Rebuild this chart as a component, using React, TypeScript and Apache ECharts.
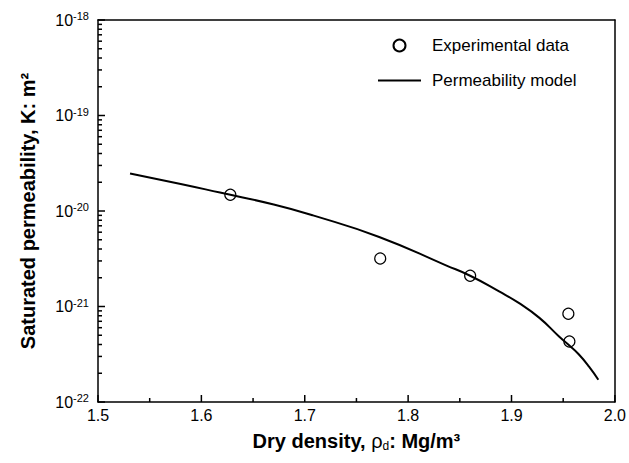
import React, { useEffect, useRef } from "react";
import * as echarts from "echarts";

// Experimental data (dry density Mg/m3, permeability m2)
const expDensity = [1.628, 1.773, 1.86, 1.955, 1.956];
const expPerm = [1.48e-20, 3.18e-21, 2.1e-21, 8.4e-22, 4.3e-22];

// Permeability model curve
const modelDensity = [1.531, 1.58, 1.618, 1.67, 1.708, 1.772, 1.8366, 1.86, 1.888, 1.907, 1.927, 1.946, 1.956, 1.965, 1.975, 1.984];
const modelPerm = [2.47e-20, 1.92e-20, 1.56e-20, 1.17e-20, 9.0e-21, 5.35e-21, 2.7e-21, 2.1e-21, 1.44e-21, 1.09e-21, 7.6e-22, 4.85e-22, 3.9e-22, 3.16e-22, 2.35e-22, 1.71e-22];

// Axis settings and tick positions
const xMin = 1.5;
const xMax = 2.0;
const xMajorTicks = [1.5, 1.6, 1.7, 1.8, 1.9, 2.0];
const xMinorTicks = [1.55, 1.65, 1.75, 1.85, 1.95];
const yMinExp = -22;
const yMaxExp = -18;
const minorMultipliers = [2, 3, 4, 5, 6, 7, 8, 9];

// ECharts' log scale rounds tiny numbers to 20 decimals, so values are
// passed in units of 1e-20 m2 and the labels add the exponent back.
const UNIT_EXP = -20;
const toUnit = (v: number) => v / Math.pow(10, UNIT_EXP);

const FONT = "'Liberation Sans', Arial, sans-serif";

export default function App() {
  const ref = useRef<HTMLDivElement>(null);
  useEffect(() => {
    if (!ref.current) return;
    const chart = echarts.init(ref.current, null, { renderer: "svg" });
    const yMin = Math.pow(10, yMinExp - UNIT_EXP);
    const yMax = Math.pow(10, yMaxExp - UNIT_EXP);
    chart.setOption({
      animation: false,
      textStyle: { fontFamily: FONT },
      grid: { left: 98, right: 13, top: 20, bottom: 61 },
      legend: {
        orient: "vertical",
        left: 373,
        top: 32,
        itemWidth: 43,
        itemHeight: 12,
        itemGap: 18,
        data: [
          { name: "Experimental data" },
          {
            name: "Permeability model",
            icon: "path://M0,0 L0.01,0 L0,0.01 Z M0,5 L43,5 L43,7 L0,7 Z M0,12 L0.01,12 L0,11.99 Z",
          },
        ],
        textStyle: { fontFamily: FONT, fontSize: 17, color: "#000", padding: [0, 0, 0, 6] },
      },
      xAxis: [
        {
          type: "value",
          min: xMin,
          max: xMax,
          interval: 0.1,
          name: "{b|Dry density, }{r|ρ}{sub|d}{b|: Mg/m³}",
          nameLocation: "middle",
          nameGap: 27,
          nameTextStyle: {
            rich: {
              b: { fontFamily: FONT, fontSize: 20, fontWeight: "bold", color: "#000" },
              r: { fontFamily: FONT, fontSize: 20, color: "#000" },
              sub: { fontFamily: FONT, fontSize: 12, color: "#000", padding: [11, 0, 0, 0] },
            },
          },
          axisLine: { show: true, lineStyle: { color: "#000", width: 1.5 } },
          axisTick: { show: false },
          splitLine: { show: false },
          axisLabel: {
            show: true,
            margin: 5,
            fontFamily: FONT,
            fontSize: 16,
            color: "#000",
            formatter: (v: number) => v.toFixed(1),
          },
        },
        {
          type: "value",
          position: "top",
          min: xMin,
          max: xMax,
          axisLine: { show: true, onZero: false, lineStyle: { color: "#000", width: 1.5 } },
          axisTick: { show: false },
          axisLabel: { show: false },
          splitLine: { show: false },
        },
      ],
      yAxis: [
        {
          type: "log",
          min: yMin,
          max: yMax,
          interval: 1,
          name: "Saturated permeability, K: m²",
          nameLocation: "middle",
          nameGap: 60,
          nameTextStyle: { fontFamily: FONT, fontSize: 20, fontWeight: "bold", color: "#000" },
          axisLine: { show: true, lineStyle: { color: "#000", width: 1.5 } },
          axisTick: { show: false },
          splitLine: { show: false },
          axisLabel: {
            show: true,
            margin: 9,
            color: "#000",
            formatter: (v: number) => {
              const e = Math.round(Math.log10(v)) + UNIT_EXP;
              return `{b|10}{s|${e}}`;
            },
            rich: {
              b: { fontFamily: FONT, fontSize: 16, color: "#000" },
              s: { fontFamily: FONT, fontSize: 11, color: "#000", padding: [0, 0, 8, 0] },
            },
          },
        },
        {
          type: "log",
          position: "right",
          min: yMin,
          max: yMax,
          axisLine: { show: true, lineStyle: { color: "#000", width: 1.5 } },
          axisTick: { show: false },
          axisLabel: { show: false },
          splitLine: { show: false },
        },
      ],
      series: [
        {
          name: "Permeability model",
          type: "line",
          data: modelDensity.map((d, i) => [d, toUnit(modelPerm[i])]),
          smooth: 0.5,
          symbol: "none",
          lineStyle: { color: "#000", width: 2 },
          itemStyle: { color: "#000" },
        },
        {
          name: "Experimental data",
          type: "scatter",
          data: expDensity.map((d, i) => [d, toUnit(expPerm[i])]),
          symbol: "circle",
          symbolSize: 11,
          itemStyle: { color: "#fff", borderColor: "#000", borderWidth: 1.2, opacity: 1 },
        },
      ],
    });

    // Ticks drawn as graphic lines, positioned through the chart's own scales.
    const toPx = (x: number, y: number) =>
      chart.convertToPixel({ xAxisIndex: 0, yAxisIndex: 0 }, [x, y]) as number[];
    const tick = (x1: number, y1: number, x2: number, y2: number) => ({
      type: "line",
      z: 100,
      silent: true,
      shape: { x1, y1, x2, y2 },
      style: { stroke: "#000", lineWidth: 1.5 },
    });
    const els: any[] = [];
    for (const v of xMajorTicks) {
      const p = toPx(v, yMin);
      els.push(tick(p[0], p[1], p[0], p[1] - 7));
    }
    for (const v of xMinorTicks) {
      const p = toPx(v, yMin);
      els.push(tick(p[0], p[1], p[0], p[1] - 4));
    }
    for (let e = yMinExp; e <= yMaxExp; e++) {
      const p = toPx(xMin, Math.pow(10, e - UNIT_EXP));
      els.push(tick(p[0], p[1], p[0] + 7, p[1]));
      if (e < yMaxExp) {
        for (const m of minorMultipliers) {
          const q = toPx(xMin, m * Math.pow(10, e - UNIT_EXP));
          els.push(tick(q[0], q[1], q[0] + 4, q[1]));
        }
      }
    }
    chart.setOption({ graphic: { elements: els } });
    return () => chart.dispose();
  }, []);
  return (
    <div
      ref={ref}
      style={{ position: "fixed", left: 0, top: 0, width: 629, height: 463, background: "#fff" }}
    />
  );
}
